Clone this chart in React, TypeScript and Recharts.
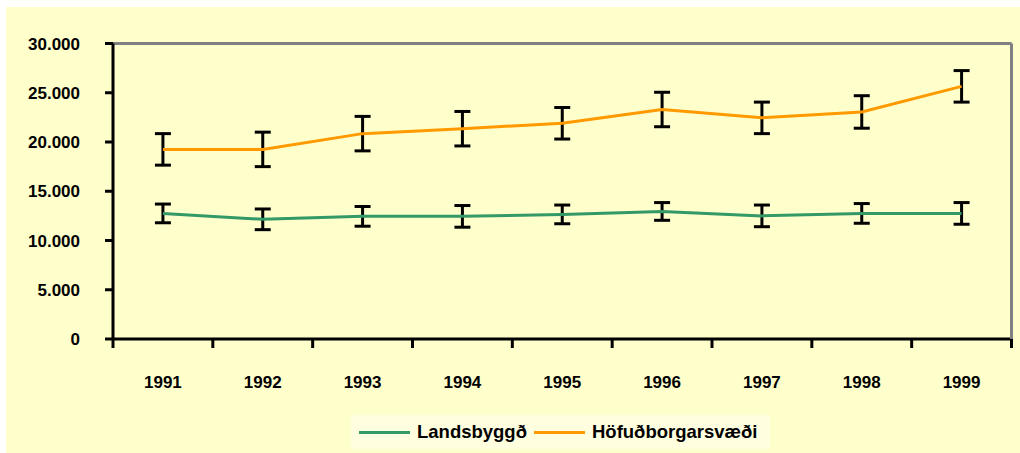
import React from "react";
import {
  LineChart,
  Line,
  XAxis,
  YAxis,
  CartesianGrid,
  ErrorBar,
  Legend,
  ReferenceLine,
} from "recharts";

const years = ["1991", "1992", "1993", "1994", "1995", "1996", "1997", "1998", "1999"];
const landsbyggd = [12750, 12150, 12450, 12450, 12650, 12950, 12500, 12750, 12750];
const landsbyggdErr = [950, 1050, 1000, 1100, 950, 900, 1100, 1000, 1100];
const hofud = [19250, 19250, 20850, 21350, 21900, 23300, 22450, 23050, 25650];
const hofudErr = [1600, 1750, 1750, 1750, 1600, 1750, 1600, 1650, 1600];
const yTicks = [0, 5000, 10000, 15000, 20000, 25000, 30000];

const data = years.map((year, i) => ({
  year,
  land: landsbyggd[i],
  landErr: landsbyggdErr[i],
  hofud: hofud[i],
  hofudErr: hofudErr[i],
}));

const GREEN = "#339966";
const ORANGE = "#FF9900";
const FONT = '"Liberation Sans", Arial, sans-serif';

const fmt = (v: number) => String(v).replace(/\B(?=(\d{3})+(?!\d))/g, ".");

function YearTick(props: any) {
  const { x, y, payload, index } = props;
  const off = payload.offset ?? 50;
  return (
    <g>
      <line x1={x - off} y1={y} x2={x - off} y2={y + 9} stroke="#000" strokeWidth={3} />
      {index === years.length - 1 && (
        <line x1={x + off} y1={y} x2={x + off} y2={y + 9} stroke="#000" strokeWidth={3} />
      )}
      <text
        x={x}
        y={y + 43}
        dy="0.355em"
        textAnchor="middle"
        fill="#000"
        fontSize={17}
        fontWeight="bold"
        fontFamily={FONT}
      >
        {payload.value}
      </text>
    </g>
  );
}

function LegendBox() {
  const item = (color: string, label: string) => (
    <div style={{ display: "flex", alignItems: "center", marginRight: 7 }}>
      <div style={{ width: 51, height: 3, background: color, marginRight: 7 }} />
      <span style={{ fontFamily: FONT, fontWeight: "bold", fontSize: 18.5, color: "#000" }}>{label}</span>
    </div>
  );
  return (
    <div
      style={{
        display: "flex",
        alignItems: "center",
        height: 34,
        paddingLeft: 8,
        background: "#FFFFE0",
        boxSizing: "border-box",
      }}
    >
      {item(GREEN, "Landsbyggð")}
      {item(ORANGE, "Höfuðborgarsvæði")}
    </div>
  );
}

export default function App() {
  return (
    <div style={{ position: "absolute", left: 0, top: 0, width: 1020, height: 453, background: "#fff" }}>
      <div style={{ position: "absolute", left: 6, top: 7, width: 1014, height: 446, background: "#FFFFCC" }}>
        <LineChart
          width={1014}
          height={446}
          data={data}
          margin={{ top: 36.5, right: 0, left: 0, bottom: 0 }}
        >
          <CartesianGrid vertical={false} stroke="#C0C0C0" strokeWidth={2} />
          <XAxis
            dataKey="year"
            scale="band"
            height={114}
            axisLine={{ stroke: "#000", strokeWidth: 3 }}
            tickLine={false}
            tickSize={0}
            tickMargin={0}
            tick={<YearTick />}
            interval={0}
          />
          <YAxis
            yAxisId="left"
            width={107}
            domain={[0, 30000]}
            ticks={yTicks}
            tickFormatter={fmt}
            axisLine={{ stroke: "#000", strokeWidth: 3 }}
            tickLine={{ stroke: "#000", strokeWidth: 3 }}
            tickSize={8}
            tickMargin={25}
            tick={{ fill: "#000", fontSize: 17, fontWeight: "bold", fontFamily: FONT }}
          />
          <YAxis
            yAxisId="right"
            orientation="right"
            width={8.5}
            domain={[0, 30000]}
            tick={false}
            tickLine={false}
            axisLine={{ stroke: "#808080", strokeWidth: 3 }}
          />
          <ReferenceLine yAxisId="left" y={30000} stroke="#808080" strokeWidth={3} />
          <Line
            yAxisId="left"
            dataKey="land"
            name="Landsbyggð"
            stroke={GREEN}
            strokeWidth={3}
            dot={false}
            type="linear"
            isAnimationActive={false}
          >
            <ErrorBar dataKey="landErr" direction="y" width={8} stroke="#000" strokeWidth={3} isAnimationActive={false} />
          </Line>
          <Line
            yAxisId="left"
            dataKey="hofud"
            name="Höfuðborgarsvæði"
            stroke={ORANGE}
            strokeWidth={3}
            dot={false}
            type="linear"
            isAnimationActive={false}
          >
            <ErrorBar dataKey="hofudErr" direction="y" width={8} stroke="#000" strokeWidth={3} isAnimationActive={false} />
          </Line>
          <Legend
            layout="horizontal"
            verticalAlign="middle"
            content={<LegendBox />}
            wrapperStyle={{ position: "absolute", left: 345, top: 408, width: 419, height: 34 }}
          />
        </LineChart>
      </div>
    </div>
  );
}
